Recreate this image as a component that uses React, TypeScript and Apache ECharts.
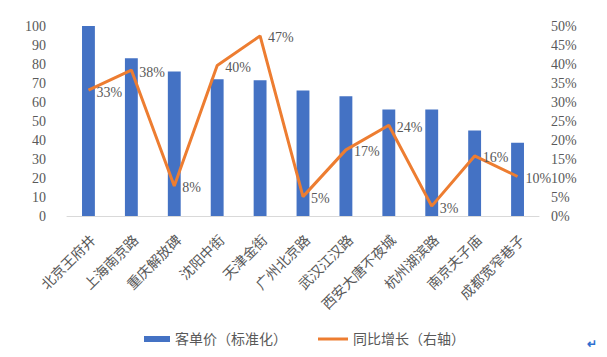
import React, { useEffect, useRef } from "react";
import * as echarts from "echarts";

const categories = ["北京王府井", "上海南京路", "重庆解放碑", "沈阳中街", "天津金街", "广州北京路", "武汉江汉路", "西安大唐不夜城", "杭州湖滨路", "南京夫子庙", "成都宽窄巷子"];
const priceIndex = [100, 83, 76, 72, 71.5, 66, 63, 56, 56, 45, 38.5];
const yoyGrowth = [0.331, 0.384, 0.079, 0.396, 0.474, 0.051, 0.174, 0.239, 0.026, 0.158, 0.104];
const barName = "客单价（标准化）";
const lineName = "同比增长（右轴）";

const FONT = "Liberation Serif, Noto Sans CJK SC, serif";
const GREY = "#595959";

export default function App() {
  const ref = useRef<HTMLDivElement>(null);
  useEffect(() => {
    if (!ref.current) return;
    const chart = echarts.init(ref.current, undefined, { renderer: "svg" });
    chart.setOption({
      animation: false,
      textStyle: { fontFamily: FONT },
      grid: { left: 67, right: 68, top: 26, bottom: 141 },
      legend: [
        {
          data: [{ name: barName, icon: "rect" }],
          left: 139,
          top: 327,
          itemWidth: 26,
          itemHeight: 6,
          textStyle: { fontFamily: FONT, fontSize: 14, color: GREY },
        },
        {
          data: [{ name: lineName, icon: "rect" }],
          left: 313,
          top: 327,
          itemWidth: 30,
          itemHeight: 3,
          textStyle: { fontFamily: FONT, fontSize: 14, color: GREY },
        },
      ],
      xAxis: {
        type: "category",
        data: categories,
        axisLine: { lineStyle: { color: "#d9d9d9", width: 1 } },
        axisTick: { show: false },
        axisLabel: {
          interval: 0,
          rotate: 45,
          margin: 17,
          align: "right",
          verticalAlign: "top",
          fontSize: 14,
          color: GREY,
          fontFamily: FONT,
        },
      },
      yAxis: [
        {
          type: "value",
          min: 0,
          max: 100,
          interval: 10,
          splitLine: { show: false },
          axisLine: { show: false },
          axisTick: { show: false },
          axisLabel: { margin: 21, fontSize: 14, color: GREY, fontFamily: FONT },
        },
        {
          type: "value",
          min: 0,
          max: 0.5,
          interval: 0.05,
          position: "right",
          splitLine: { show: false },
          axisLine: { show: false },
          axisTick: { show: false },
          axisLabel: {
            margin: 12,
            fontSize: 14,
            color: GREY,
            fontFamily: FONT,
            formatter: (v: number) => Math.round(v * 100) + "%",
          },
        },
      ],
      series: [
        {
          name: barName,
          type: "bar",
          data: priceIndex,
          barWidth: "30%",
          itemStyle: { color: "#4472C4" },
        },
        {
          name: lineName,
          type: "line",
          yAxisIndex: 1,
          data: yoyGrowth,
          showSymbol: true,
          symbol: "circle",
          symbolSize: 0,
          itemStyle: { color: "#ED7D31" },
          lineStyle: { color: "#ED7D31", width: 3 },
          label: {
            show: true,
            position: "right",
            distance: 8,
            offset: [0, 2],
            fontSize: 14,
            color: GREY,
            fontFamily: FONT,
            formatter: (p: any) => Math.round(p.value * 100) + "%",
          },
        },
      ],
      graphic: [
        {
          type: "text",
          right: 10,
          top: 338,
          style: { text: "↵", fill: "#2f6fd0", font: "bold 12px sans-serif" },
        },
      ],
    });
    return () => chart.dispose();
  }, []);
  return <div ref={ref} style={{ position: "absolute", left: 0, top: 0, width: 607, height: 357 }} />;
}
